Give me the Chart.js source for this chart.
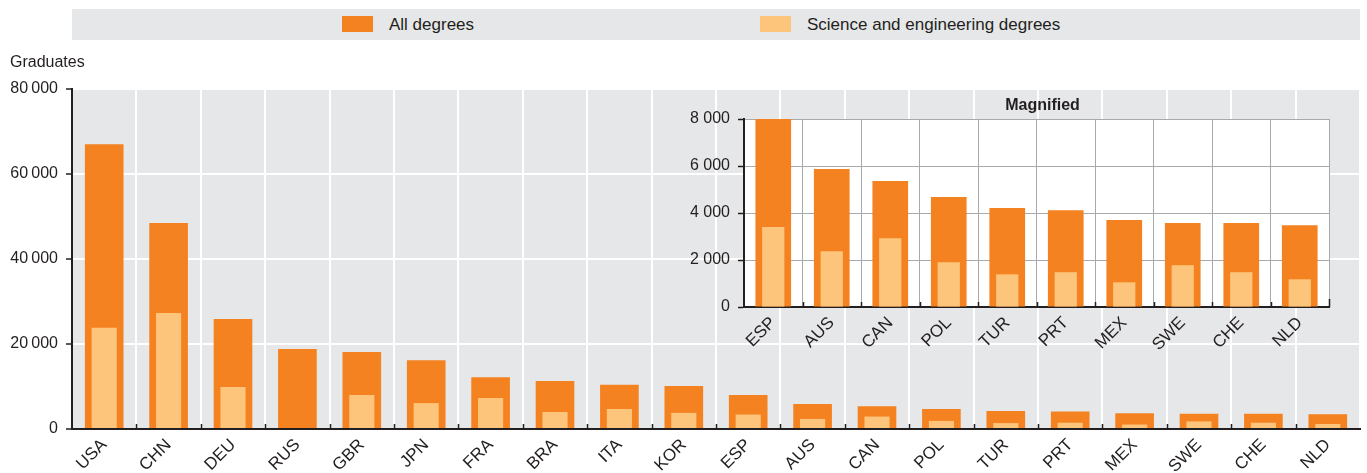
<!DOCTYPE html>
<html>
<head>
<meta charset="utf-8">
<script src="https://cdn.jsdelivr.net/npm/chart.js@4/dist/chart.umd.min.js"></script>
<style>
  body { margin: 0; background: #fff; }
  #wrap { position: relative; width: 1367px; height: 473px; font-family: "Liberation Sans Narrow", "Liberation Sans", sans-serif; color: #231f20; }
  #legend { position: absolute; left: 72px; top: 9px; width: 1288px; height: 31px; background: #e6e7e8; }
  .item { position: absolute; top: 0; height: 31px; line-height: 31px; font-size: 17px; }
  .item span { position: absolute; left: 0; top: 7px; width: 31px; height: 16px; }
  .item b { font-weight: normal; position: absolute; left: 47px; white-space: nowrap; }
  #ytitle { position: absolute; left: 10px; top: 53px; font-size: 16px; }
  #insetBox { position: absolute; left: 670px; top: 90px; width: 680px; height: 260px; }
</style>
</head>
<body>
<div id="wrap">
  <div id="legend"></div>
  <div id="ytitle">Graduates</div>
  <canvas id="mainChart" width="1367" height="473"></canvas>
  <div id="insetBox"><canvas id="insetChart" width="680" height="260"></canvas></div>
</div>
<script>
// Données
const seriesNames = ["All degrees", "Science and engineering degrees"];
const seriesColors = ["#f58220", "#fdc57b"];

const countries = ["USA", "CHN", "DEU", "RUS", "GBR", "JPN", "FRA", "BRA", "ITA", "KOR",
                   "ESP", "AUS", "CAN", "POL", "TUR", "PRT", "MEX", "SWE", "CHE", "NLD"];
const allDegrees = [67000, 48500, 25900, 18800, 18100, 16200, 12200, 11300, 10400, 10100,
                    8000, 5870, 5360, 4680, 4210, 4120, 3700, 3570, 3570, 3480];
const sciDegrees = [23800, 27300, 9900, null, 8000, 6100, 7300, 4000, 4700, 3800,
                    3400, 2370, 2930, 1900, 1390, 1480, 1050, 1780, 1480, 1180];

const magnifiedCountries = ["ESP", "AUS", "CAN", "POL", "TUR", "PRT", "MEX", "SWE", "CHE", "NLD"];
const magnifiedAll = [8000, 5870, 5360, 4680, 4210, 4120, 3700, 3570, 3570, 3480];
const magnifiedSci = [3400, 2370, 2930, 1900, 1390, 1480, 1050, 1780, 1480, 1180];

const mainTicks = [0, 20000, 40000, 60000, 80000];
const insetTicks = [0, 2000, 4000, 6000, 8000];
const insetTitle = "Magnified";

const ink = "#231f20";
const fontFamily = '"Liberation Sans Narrow", "Liberation Sans", sans-serif';

// Légende HTML
const legend = document.getElementById("legend");
[270, 688].forEach((left, i) => {
    const item = document.createElement("div");
    item.className = "item";
    item.style.left = left + "px";
    item.innerHTML = `<span style="background:${seriesColors[i]}"></span><b>${seriesNames[i]}</b>`;
    legend.appendChild(item);
});

function fmt(v, sep) {
    return String(v).replace(/\B(?=(\d{3})+(?!\d))/g, sep);
}

// fond gris / blanc de la zone de tracé
const areaBg = {
    id: "areaBg",
    beforeDraw(chart, args, opts) {
        const a = chart.chartArea;
        chart.ctx.save();
        chart.ctx.fillStyle = opts.color;
        chart.ctx.fillRect(a.left, a.top, a.right - a.left, a.bottom - a.top);
        chart.ctx.restore();
    }
};

// petites graduations vers le haut sur l'axe des x (+ titre de l'encart)
const innerTicks = {
    id: "innerTicks",
    afterDraw(chart, args, opts) {
        const a = chart.chartArea;
        const n = chart.data.labels.length;
        const w = (a.right - a.left) / n;
        const ctx = chart.ctx;
        ctx.save();
        ctx.strokeStyle = ink;
        ctx.lineWidth = 1.5;
        ctx.beginPath();
        for (let i = 1; i <= n; i++) {
            const x = Math.round(a.left + i * w) + 0.5;
            ctx.moveTo(x, a.bottom);
            ctx.lineTo(x, a.bottom - (i === n ? opts.last : 5));
        }
        ctx.stroke();
        if (opts.title) {
            ctx.fillStyle = ink;
            ctx.font = "bold 16px " + fontFamily;
            ctx.textAlign = "center";
            ctx.textBaseline = "bottom";
            ctx.fillText(opts.title, (a.left + a.right) / 2 + 6, a.top - 5);
        }
        ctx.restore();
    }
};

function makeDatasets(all, sci, barW, sciW) {
    return [{
        label: seriesNames[0],
        data: all,
        backgroundColor: seriesColors[0],
        grouped: false,
        order: 2,
        categoryPercentage: 1,
        barPercentage: barW
    }, {
        label: seriesNames[1],
        data: sci,
        backgroundColor: seriesColors[1],
        grouped: false,
        order: 1,
        categoryPercentage: 1,
        barPercentage: sciW
    }];
}

function makeOptions(cfg) {
    return {
        responsive: false,
        animation: false,
        layout: { padding: { top: cfg.top, right: cfg.right, left: 0, bottom: 0 } },
        plugins: {
            legend: { display: false },
            tooltip: { enabled: false },
            areaBg: { color: cfg.bg },
            innerTicks: { last: cfg.lastTick, title: cfg.title }
        },
        scales: {
            x: {
                offset: true,
                grid: { color: cfg.grid, lineWidth: cfg.gridW, drawTicks: false },
                border: { display: true, color: ink, width: 2 },
                ticks: {
                    color: ink, font: { family: fontFamily, size: 17 },
                    minRotation: 45, maxRotation: 45, autoSkip: false, padding: 6
                },
                afterFit: s => { s.height = cfg.xh; }
            },
            y: {
                min: 0, max: cfg.max,
                afterBuildTicks: s => { s.ticks = cfg.ticks.map(v => ({ value: v })); },
                grid: { color: cfg.grid, lineWidth: cfg.gridW, tickColor: ink, tickLength: 6, tickWidth: 1.5 },
                border: { display: true, color: ink, width: 2 },
                ticks: {
                    color: ink, font: { family: fontFamily, size: 16 }, padding: 8,
                    callback: v => fmt(v, cfg.sep)
                },
                afterFit: s => { s.width = cfg.yw; }
            }
        }
    };
}

new Chart(document.getElementById("mainChart"), {
    type: "bar",
    data: { labels: countries, datasets: makeDatasets(allDegrees, sciDegrees, 0.6, 0.39) },
    options: makeOptions({
        top: 89, right: 7, xh: 44, yw: 72, max: 80000, ticks: mainTicks,
        bg: "#e6e7e8", grid: "#ffffff", gridW: 2, sep: "\u2009", lastTick: 0, title: null
    }),
    plugins: [areaBg, innerTicks]
});

new Chart(document.getElementById("insetChart"), {
    type: "bar",
    data: { labels: magnifiedCountries, datasets: makeDatasets(magnifiedAll, magnifiedSci, 0.61, 0.38) },
    options: makeOptions({
        top: 29, right: 21, xh: 43, yw: 74, max: 8000, ticks: insetTicks,
        bg: "#ffffff", grid: "#a7a9ac", gridW: 1, sep: " ", lastTick: 8, title: insetTitle
    }),
    plugins: [areaBg, innerTicks]
});
</script>
</body>
</html>
